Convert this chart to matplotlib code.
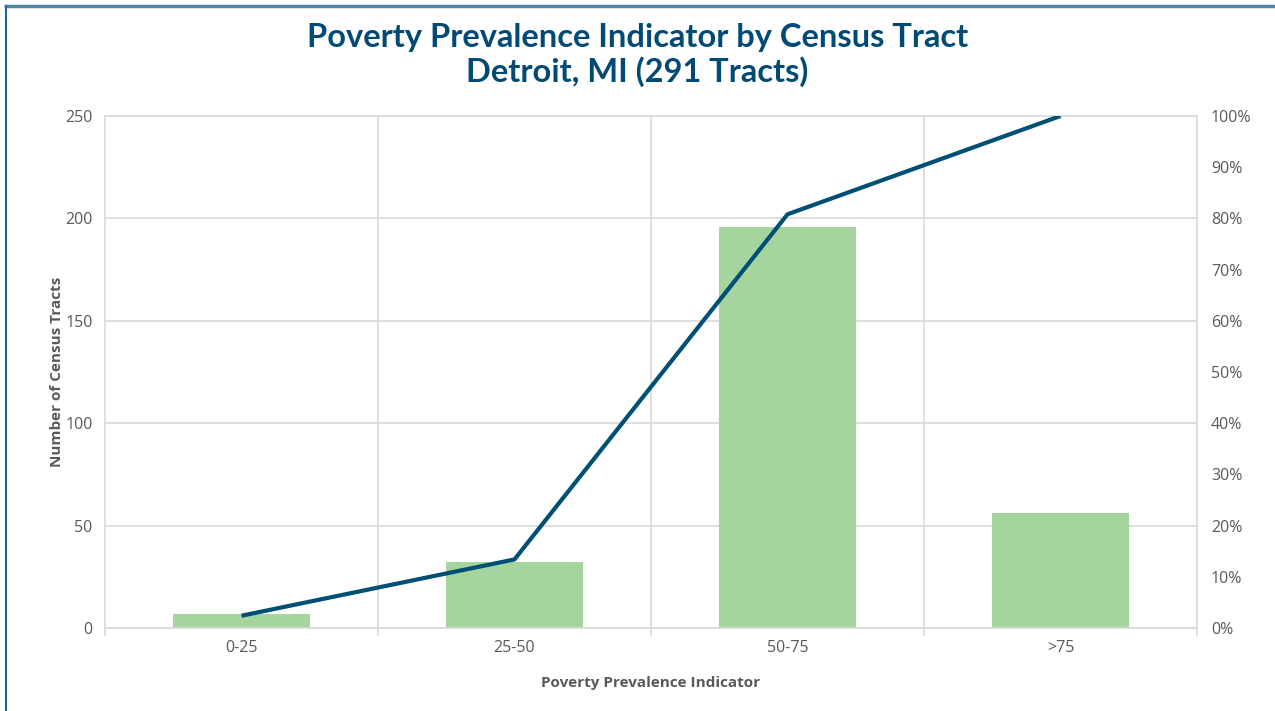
import matplotlib
matplotlib.use("Agg")
import matplotlib.pyplot as plt
from matplotlib.lines import Line2D
from matplotlib.ticker import MultipleLocator, FuncFormatter

categories = ["0-25", "25-50", "50-75", ">75"]
counts = [7, 32, 196, 56]
cumulative_pct = [2.4, 13.4, 80.8, 100.0]

title = "Poverty Prevalence Indicator by Census Tract\nDetroit, MI (291 Tracts)"
xlabel = "Poverty Prevalence Indicator"
ylabel = "Number of Census Tracts"

W, H = 1275, 711
fig = plt.figure(figsize=(W / 100, H / 100), dpi=100)
ax = fig.add_axes([105 / W, 1 - 628 / H, (1197 - 105) / W, (628 - 116) / H])

tick_color = "#595959"
grid_color = "#d9d9d9"
font = ["Open Sans", "DejaVu Sans"]

x = list(range(len(categories)))
ax.bar(x, counts, width=0.5, color="#a6d49e", zorder=2)
ax.set_xlim(-0.5, len(categories) - 0.5)
ax.set_ylim(0, 250)
ax.yaxis.set_major_locator(MultipleLocator(50))
ax.set_xticks(x)
ax.set_xticklabels(categories)
ax.tick_params(axis="x", length=0, pad=9, labelsize=11.5, labelcolor=tick_color)
ax.tick_params(axis="y", length=0, pad=9, labelsize=11.5, labelcolor=tick_color)
ax.set_xticks([i + 0.5 for i in range(-1, len(categories))], minor=True)
ax.tick_params(axis="x", which="minor", length=6, color=grid_color, width=1.2)
ax.grid(axis="y", color=grid_color, linewidth=1.2, zorder=0)
for i in range(len(categories) - 1):
    ax.axvline(i + 0.5, color=grid_color, linewidth=1.2, zorder=0)
for s in ax.spines.values():
    s.set_color(grid_color)
    s.set_linewidth(1.2)
for lab in ax.get_xticklabels() + ax.get_yticklabels():
    lab.set_family(font)

ax.set_xlabel(xlabel, fontsize=11, fontweight="bold", color=tick_color, family=font, labelpad=14)
ax.set_ylabel(ylabel, fontsize=11, fontweight="bold", color=tick_color, family=font, labelpad=1)

ax2 = ax.twinx()
ax2.plot(x, cumulative_pct, color="#004f74", linewidth=3, zorder=3, solid_capstyle="butt")
ax2.set_ylim(0, 100)
ax2.yaxis.set_major_locator(MultipleLocator(10))
ax2.yaxis.set_major_formatter(FuncFormatter(lambda v, p: f"{int(v)}%"))
ax2.tick_params(axis="y", length=0, pad=10, labelsize=11.5, labelcolor=tick_color)
for s in ax2.spines.values():
    s.set_visible(False)
for lab in ax2.get_yticklabels():
    lab.set_family(font)

fig.text(0.5, 1 - 55 / H, title, ha="center", va="center", fontsize=23.5, fontweight="bold",
         color="#004a75", family=["Lato", "DejaVu Sans"], linespacing=1.15)

fig.add_artist(Line2D([6 / W, 1], [1 - 6 / H, 1 - 6 / H], color="#4d87a6", linewidth=2.5, transform=fig.transFigure))
fig.add_artist(Line2D([6 / W, 6 / W], [0, 1 - 6 / H], color="#1f6496", linewidth=1.5, transform=fig.transFigure))

fig.savefig("out.png", dpi=100)
